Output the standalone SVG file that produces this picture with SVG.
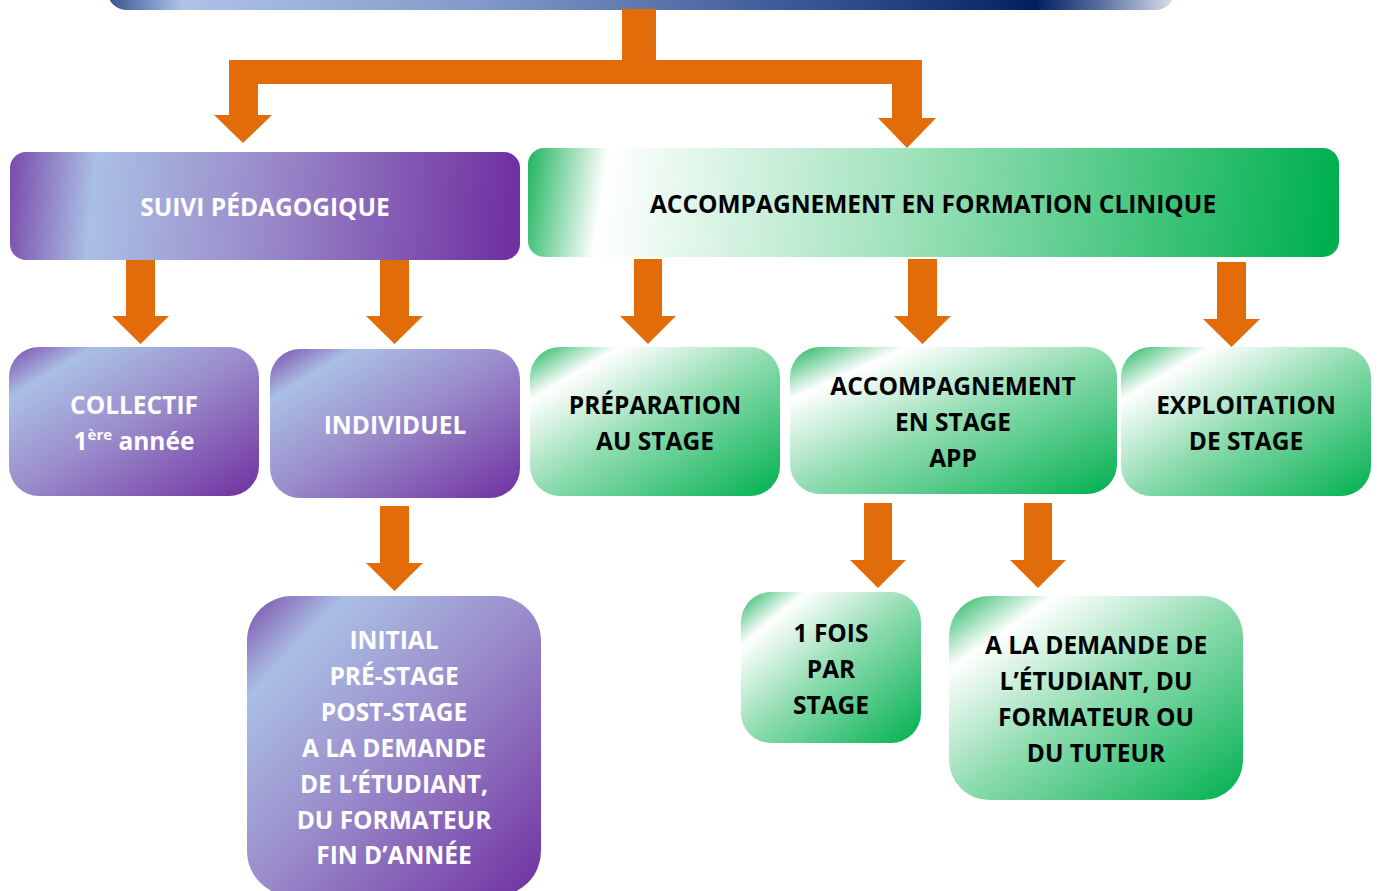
<svg xmlns="http://www.w3.org/2000/svg" width="1379" height="891" viewBox="0 0 1379 891">
<defs>
<linearGradient id="gTop" x1="0" y1="0" x2="1" y2="0">
<stop offset="0" stop-color="#34508f"/><stop offset="0.07" stop-color="#afc3e8"/><stop offset="0.35" stop-color="#8299c9"/><stop offset="0.7" stop-color="#2e4c8c"/><stop offset="0.87" stop-color="#002060"/><stop offset="0.93" stop-color="#5a6fa0"/><stop offset="1" stop-color="#dce3ee"/>
</linearGradient>
<linearGradient id="gPurpleH" x1="0" y1="0" x2="1" y2="0.02">
<stop offset="0" stop-color="#7a4aab"/><stop offset="0.17" stop-color="#aabfe4"/><stop offset="0.5" stop-color="#9a8ccb"/><stop offset="1" stop-color="#7030a0"/>
</linearGradient>
<linearGradient id="gGreenH" x1="0" y1="0" x2="1" y2="0.02">
<stop offset="0" stop-color="#1db45e"/><stop offset="0.1" stop-color="#ffffff"/><stop offset="0.45" stop-color="#a6e4c0"/><stop offset="1" stop-color="#00b050"/>
</linearGradient>
<linearGradient id="gPurpleD" x1="0" y1="0" x2="1" y2="1">
<stop offset="0" stop-color="#7a4aab"/><stop offset="0.17" stop-color="#aabfe4"/><stop offset="0.5" stop-color="#9a8ccb"/><stop offset="1" stop-color="#7030a0"/>
</linearGradient>
<linearGradient id="gGreenD" x1="0" y1="0" x2="1" y2="1">
<stop offset="0" stop-color="#1db45e"/><stop offset="0.18" stop-color="#ffffff"/><stop offset="0.5" stop-color="#8fdcb0"/><stop offset="1" stop-color="#00b050"/>
</linearGradient>
<style>
.arr{fill:#e36c0a}
.t{font-family:"Open Sans","Liberation Sans",sans-serif;font-weight:700;font-size:24.5px;text-anchor:middle}
.w{fill:#ffffff}
.k{fill:#000000}
</style>
</defs>
<rect width="1379" height="891" fill="#ffffff"/>
<g id="top">
<rect x="107" y="-40" width="1068" height="50" rx="20" fill="url(#gTop)"/>
</g>
<g id="connectors">
<polygon class="arr" points="622,9 656,9 656,60 922,60 922,118 936,118 907,148 878,118 892,118 892,84 258,84 258,115 272,115 243,143 214,115 229,115 229,60 622,60"/>
<polygon class="arr" points="126,260 155,260 155,316 169,316 140.5,344 112,316 126,316"/>
<polygon class="arr" points="380,260 409,260 409,316 423,316 394.5,344 366,316 380,316"/>
<polygon class="arr" points="634,259 662,259 662,316 676,316 648,344 620,316 634,316"/>
<polygon class="arr" points="908,259 937,259 937,316 951,316 922.5,344 894,316 908,316"/>
<polygon class="arr" points="1217,262 1246,262 1246,319 1260,319 1231.5,347 1203,319 1217,319"/>
<polygon class="arr" points="380,506 409,506 409,563 423,563 394.5,591 366,563 380,563"/>
<polygon class="arr" points="864,503 892,503 892,560 906,560 878,588 850,560 864,560"/>
<polygon class="arr" points="1024,503 1052,503 1052,560 1066,560 1038,588 1010,560 1024,560"/>
</g>
<g id="suivi">
<rect x="10" y="152" width="510" height="108" rx="16" fill="url(#gPurpleH)"/>
<text class="t w" x="265" y="216">SUIVI PÉDAGOGIQUE</text>
</g>
<g id="accompagnement">
<rect x="528" y="148" width="811" height="109" rx="16" fill="url(#gGreenH)"/>
<text class="t k" x="933" y="213">ACCOMPAGNEMENT EN FORMATION CLINIQUE</text>
</g>
<g id="collectif">
<rect x="9" y="347" width="250" height="149" rx="30" fill="url(#gPurpleD)"/>
<text class="t w" x="134" y="414">COLLECTIF</text>
<text class="t w" x="134" y="450">1<tspan font-size="15" dy="-10">ère</tspan><tspan dy="10"> année</tspan></text>
</g>
<g id="individuel">
<rect x="270" y="349" width="250" height="149" rx="30" fill="url(#gPurpleD)"/>
<text class="t w" x="395" y="434">INDIVIDUEL</text>
</g>
<g id="preparation">
<rect x="530" y="347" width="250" height="149" rx="30" fill="url(#gGreenD)"/>
<text class="t k" x="655" y="414">PRÉPARATION</text>
<text class="t k" x="655" y="450">AU STAGE</text>
</g>
<g id="app">
<rect x="790" y="347" width="327" height="147" rx="30" fill="url(#gGreenD)"/>
<text class="t k" x="953" y="395">ACCOMPAGNEMENT</text>
<text class="t k" x="953" y="431">EN STAGE</text>
<text class="t k" x="953" y="467">APP</text>
</g>
<g id="exploitation">
<rect x="1121" y="347" width="250" height="149" rx="30" fill="url(#gGreenD)"/>
<text class="t k" x="1246" y="414">EXPLOITATION</text>
<text class="t k" x="1246" y="450">DE STAGE</text>
</g>
<g id="initial">
<rect x="247" y="596" width="294" height="300" rx="45" fill="url(#gPurpleD)"/>
<text class="t w" x="394" y="649">INITIAL</text>
<text class="t w" x="394" y="685">PRÉ-STAGE</text>
<text class="t w" x="394" y="721">POST-STAGE</text>
<text class="t w" x="394" y="757">A LA DEMANDE</text>
<text class="t w" x="394" y="793">DE L’ÉTUDIANT,</text>
<text class="t w" x="394" y="829">DU FORMATEUR</text>
<text class="t w" x="394" y="864">FIN D’ANNÉE</text>
</g>
<g id="unefois">
<rect x="741" y="592" width="180" height="151" rx="30" fill="url(#gGreenD)"/>
<text class="t k" x="831" y="642">1 FOIS</text>
<text class="t k" x="831" y="678">PAR</text>
<text class="t k" x="831" y="714">STAGE</text>
</g>
<g id="demande">
<rect x="949" y="596" width="294" height="204" rx="40" fill="url(#gGreenD)"/>
<text class="t k" x="1096" y="654">A LA DEMANDE DE</text>
<text class="t k" x="1096" y="690">L’ÉTUDIANT, DU</text>
<text class="t k" x="1096" y="726">FORMATEUR OU</text>
<text class="t k" x="1096" y="762">DU TUTEUR</text>
</g>
</svg>
